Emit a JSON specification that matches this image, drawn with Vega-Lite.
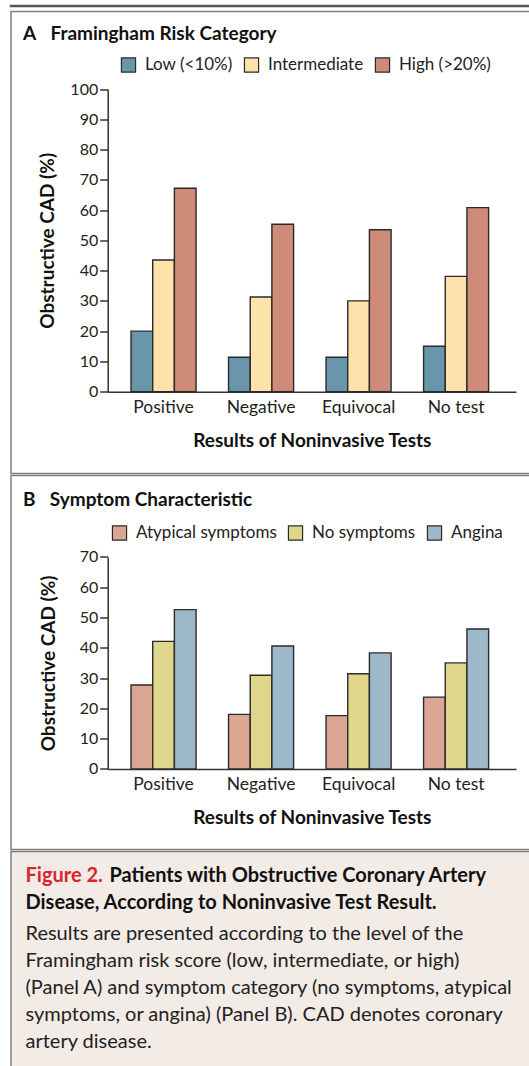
{
  "$schema": "https://vega.github.io/schema/vega-lite/v6.json",
  "padding": {"left": 9, "top": 4, "right": 0, "bottom": 0},
  "background": "white",
  "spacing": 2.5,
  "datasets": {
    "risk": [
      {"test": "Positive", "category": "Low (<10%)", "value": 20.0},
      {"test": "Positive", "category": "Intermediate", "value": 43.5},
      {"test": "Positive", "category": "High (>20%)", "value": 67.2},
      {"test": "Negative", "category": "Low (<10%)", "value": 11.4},
      {"test": "Negative", "category": "Intermediate", "value": 31.3},
      {"test": "Negative", "category": "High (>20%)", "value": 55.3},
      {"test": "Equivocal", "category": "Low (<10%)", "value": 11.4},
      {"test": "Equivocal", "category": "Intermediate", "value": 30.0},
      {"test": "Equivocal", "category": "High (>20%)", "value": 53.5},
      {"test": "No test", "category": "Low (<10%)", "value": 15.0},
      {"test": "No test", "category": "Intermediate", "value": 38.1},
      {"test": "No test", "category": "High (>20%)", "value": 60.8}
    ],
    "symptom": [
      {"test": "Positive", "symptom": "Atypical symptoms", "value": 27.7},
      {"test": "Positive", "symptom": "No symptoms", "value": 42.1},
      {"test": "Positive", "symptom": "Angina", "value": 52.6},
      {"test": "Negative", "symptom": "Atypical symptoms", "value": 18.0},
      {"test": "Negative", "symptom": "No symptoms", "value": 30.9},
      {"test": "Negative", "symptom": "Angina", "value": 40.6},
      {"test": "Equivocal", "symptom": "Atypical symptoms", "value": 17.6},
      {"test": "Equivocal", "symptom": "No symptoms", "value": 31.4},
      {"test": "Equivocal", "symptom": "Angina", "value": 38.3},
      {"test": "No test", "symptom": "Atypical symptoms", "value": 23.7},
      {"test": "No test", "symptom": "No symptoms", "value": 35.0},
      {"test": "No test", "symptom": "Angina", "value": 46.2}
    ],
    "caption": [
      {"line": 1, "part": "label", "text": "Figure 2."},
      {"line": 1, "part": "head", "text": "Patients with Obstructive Coronary Artery"},
      {"line": 2, "part": "head2", "text": "Disease, According to Noninvasive Test Result."},
      {"line": 3, "part": "body", "text": "Results are presented according to the level of the"},
      {"line": 4, "part": "body", "text": "Framingham risk score (low, intermediate, or high)"},
      {"line": 5, "part": "body", "text": "(Panel A) and symptom category (no symptoms, atypical"},
      {"line": 6, "part": "body", "text": "symptoms, or angina) (Panel B). CAD denotes coronary"},
      {"line": 7, "part": "body", "text": "artery disease."}
    ]
  },
  "vconcat": [
    {
      "width": 525,
      "height": 0.01,
      "view": {"stroke": "#555555", "strokeWidth": 2.5, "fill": null},
      "data": {"values": []},
      "mark": {"type": "text"},
      "encoding": {"text": {"field": "t", "type": "nominal"}}
    },
    {
      "spacing": 0,
      "resolve": {
        "scale": {"x": "independent", "y": "independent", "color": "independent", "xOffset": "independent"},
        "legend": {"color": "independent"},
        "axis": {"x": "independent", "y": "independent"}
      },
      "vconcat": [
        {
          "width": 525,
          "height": 462,
          "view": {"stroke": "#808080", "strokeWidth": 1.5, "fill": "white"},
          "title": {"text": "A\u2003Framingham Risk Category", "anchor": "start", "frame": "group", "offset": -32, "dx": 12, "fontSize": 19, "fontWeight": "bold", "font": "Lato", "color": "#111111"},
          "data": {"name": "risk"},
          "mark": {"type": "bar", "stroke": "#2a2a2a", "strokeWidth": 1.4},
          "encoding": {
            "x": {
              "field": "test", "type": "nominal",
              "sort": ["Positive", "Negative", "Equivocal", "No test"],
              "scale": {"range": [96.7, 505], "paddingInner": 0.333, "paddingOuter": 0.26, "align": 0.46},
              "axis": {"title": "Results of Noninvasive Tests", "offset": -81.8, "ticks": false, "labelAngle": 0, "labelPadding": 7, "titlePadding": 15}
            },
            "xOffset": {
              "field": "category", "type": "nominal",
              "sort": ["Low (<10%)", "Intermediate", "High (>20%)"],
              "scale": {"paddingInner": 0}
            },
            "y": {
              "field": "value", "type": "quantitative",
              "scale": {"domain": [0, 100], "range": [380.2, 77.5], "nice": false},
              "axis": {"title": "Obstructive CAD (%)", "offset": -96.7, "values": [0, 10, 20, 30, 40, 50, 60, 70, 80, 90, 100], "titlePadding": 12}
            },
            "color": {
              "field": "category", "type": "nominal",
              "sort": ["Low (<10%)", "Intermediate", "High (>20%)"],
              "scale": {"domain": ["Low (<10%)", "Intermediate", "High (>20%)"], "range": ["#6896ab", "#fde2ab", "#ce8c78"]},
              "legend": {"orient": "none", "legendX": 109, "legendY": 45, "direction": "horizontal", "title": null}
            }
          }
        },
        {
          "width": 525,
          "height": 374,
          "view": {"stroke": "#808080", "strokeWidth": 1.5, "fill": "white"},
          "title": {"text": "B\u2003Symptom Characteristic", "anchor": "start", "frame": "group", "offset": -34, "dx": 12, "fontSize": 19, "fontWeight": "bold", "font": "Lato", "color": "#111111"},
          "data": {"name": "symptom"},
          "mark": {"type": "bar", "stroke": "#2a2a2a", "strokeWidth": 1.4},
          "encoding": {
            "x": {
              "field": "test", "type": "nominal",
              "sort": ["Positive", "Negative", "Equivocal", "No test"],
              "scale": {"range": [96.7, 505], "paddingInner": 0.333, "paddingOuter": 0.26, "align": 0.46},
              "axis": {"title": "Results of Noninvasive Tests", "offset": -80.6, "ticks": false, "labelAngle": 0, "labelPadding": 7, "titlePadding": 15}
            },
            "xOffset": {
              "field": "symptom", "type": "nominal",
              "sort": ["Atypical symptoms", "No symptoms", "Angina"],
              "scale": {"paddingInner": 0}
            },
            "y": {
              "field": "value", "type": "quantitative",
              "scale": {"domain": [0, 70], "range": [293.4, 81.4], "nice": false},
              "axis": {"title": "Obstructive CAD (%)", "offset": -96.7, "values": [0, 10, 20, 30, 40, 50, 60, 70], "titlePadding": 21}
            },
            "color": {
              "field": "symptom", "type": "nominal",
              "sort": ["Atypical symptoms", "No symptoms", "Angina"],
              "scale": {"domain": ["Atypical symptoms", "No symptoms", "Angina"], "range": ["#dba593", "#dfd68b", "#9cb8c9"]},
              "legend": {"orient": "none", "legendX": 100, "legendY": 49, "direction": "horizontal", "title": null}
            }
          }
        },
        {
          "width": 525,
          "height": 225,
          "view": {"stroke": "#808080", "strokeWidth": 1.5, "fill": "#f3ebe6"},
          "data": {"name": "caption"},
          "encoding": {
            "y": {"field": "line", "type": "quantitative", "scale": {"domain": [1, 7], "range": [24.4, 185.8]}, "axis": null},
            "x": {"datum": 0, "type": "quantitative", "scale": {"domain": [0, 1], "range": [14.5, 517]}, "axis": null},
            "text": {"field": "text", "type": "nominal"}
          },
          "layer": [
            {
              "transform": [{"filter": "datum.part === 'label'"}],
              "mark": {"type": "text", "align": "left", "baseline": "middle", "font": "Lato", "fontSize": 20, "fontWeight": "bold", "color": "#d7262e"}
            },
            {
              "transform": [{"filter": "datum.part === 'head'"}],
              "mark": {"type": "text", "align": "left", "baseline": "middle", "font": "Lato", "fontSize": 20, "fontWeight": "bold", "color": "#111111", "dx": 84}
            },
            {
              "transform": [{"filter": "datum.part === 'head2'"}],
              "mark": {"type": "text", "align": "left", "baseline": "middle", "font": "Lato", "fontSize": 20, "fontWeight": "bold", "color": "#111111"}
            },
            {
              "transform": [{"filter": "datum.part === 'body'"}],
              "mark": {"type": "text", "align": "left", "baseline": "middle", "font": "Lato", "fontSize": 20, "color": "#222222", "dy": 4.5}
            }
          ]
        }
      ]
    }
  ],
  "config": {
    "font": "Lato",
    "axis": {
      "grid": false,
      "labelFont": "Lato",
      "labelFontSize": 16,
      "labelColor": "#222222",
      "titleFont": "Lato",
      "titleFontSize": 19,
      "titleFontWeight": "bold",
      "titleColor": "#111111",
      "domainColor": "#333333",
      "domainWidth": 1.5,
      "tickColor": "#333333",
      "tickWidth": 1.5,
      "tickSize": 8,
      "labelPadding": 2
    },
    "axisX": {"labelFontSize": 17.5},
    "legend": {
      "symbolType": "square",
      "symbolSize": 200,
      "symbolStrokeColor": "#2a2a2a",
      "symbolStrokeWidth": 1.2,
      "labelFont": "Lato",
      "labelFontSize": 17,
      "labelColor": "#222222",
      "labelOffset": 8,
      "columnPadding": 9,
      "padding": 0
    }
  }
}
